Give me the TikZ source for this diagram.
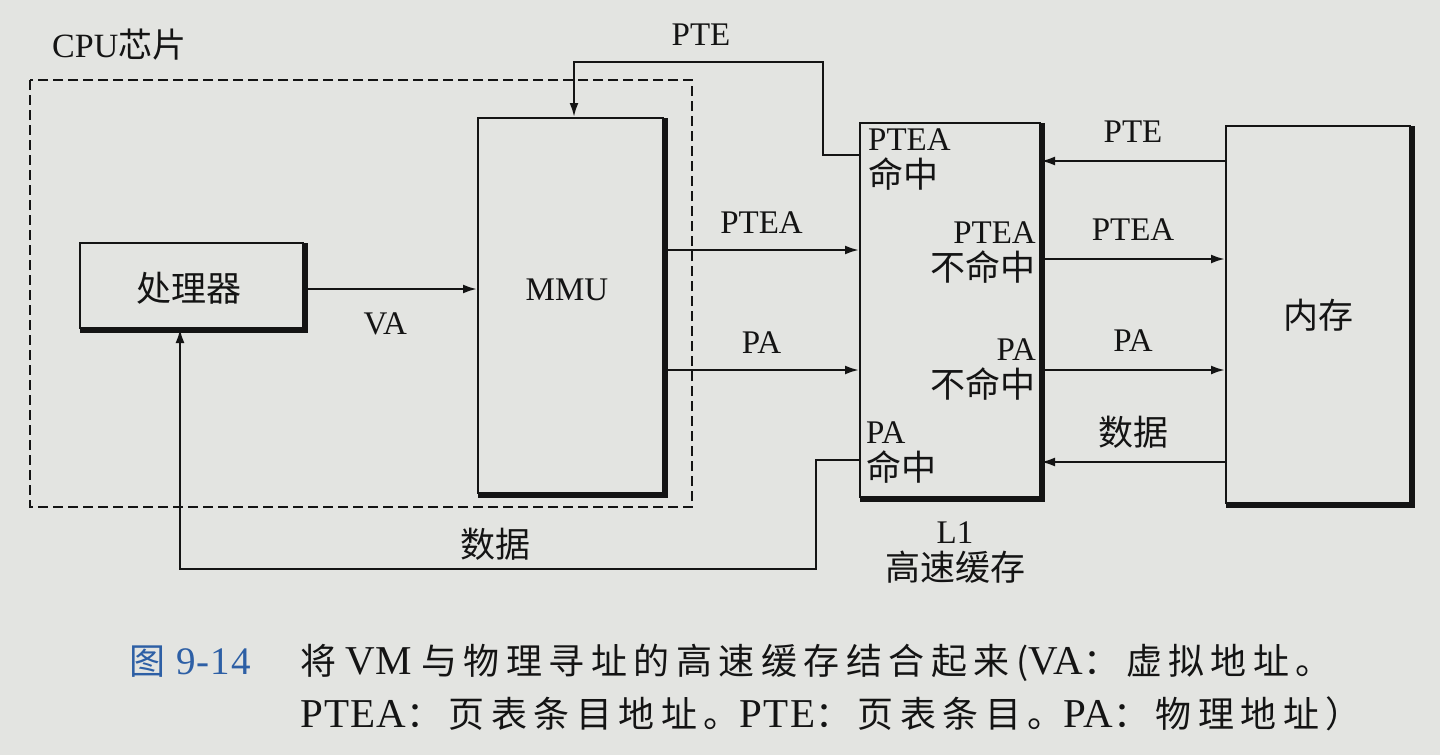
\documentclass[tikz,border=0pt]{standalone}
\usepackage{fontspec}
\setmainfont{Liberation Serif}
\newfontfamily\cjk{Noto Sans CJK SC}
\newfontfamily\capcjk[LetterSpace=18]{Noto Sans CJK SC}
\newfontfamily\caplat[LetterSpace=3]{Liberation Serif}
\newcommand\capzh[1]{{\capcjk\fontsize{36}{40}\selectfont #1}}
\newcommand\capen[1]{{\caplat\fontsize{41}{40}\selectfont #1}}
\usetikzlibrary{arrows.meta}

\definecolor{paper}{RGB}{227,228,225}
\definecolor{ink}{RGB}{20,20,20}
\definecolor{figblue}{RGB}{45,95,165}

\tikzset{
  blockbox/.style={draw=ink, line width=2pt, inner sep=0pt},
  shadowedge/.style={draw=ink, line width=4pt, line cap=rect},
  link/.style={draw=ink, line width=2.3pt, -{Latex[length=14pt,width=9pt]}},
  chip/.style={draw=ink, line width=2.8pt, dash pattern=on 10pt off 5pt},
  lbl/.style={text=ink, inner sep=0pt, font=\fontsize{33}{37}\selectfont},
  cjklbl/.style={text=ink, inner sep=0pt, font=\cjk\fontsize{35}{37}\selectfont},
  caption/.style={text=ink, inner sep=0pt, anchor=base west, font=\fontsize{36}{40}\selectfont}
}

\begin{document}
\begin{tikzpicture}[x=1pt, y=-1pt]
  \fill[paper] (0,0) rectangle (1440,755);
  \useasboundingbox (0,0) rectangle (1440,755);

  % CPU chip boundary
  \draw[chip] (30,80) rectangle (692,507);
  \node[lbl, anchor=base west, font=\fontsize{34}{37}\selectfont] (cpu) at (52,57) {CPU{\cjk 芯片}};

  % blocks
  \node[blockbox, minimum width=223pt, minimum height=85pt] (proc) at (191.5,285.5) {};
  \node[cjklbl] (proctext) at (189,288) {处理器};
  \node[blockbox, minimum width=185pt, minimum height=375pt] (mmu) at (570.5,305.5) {};
  \node[lbl] (mmutext) at (567,290) {MMU};
  \node[blockbox, minimum width=180pt, minimum height=374pt] (l1) at (950,310) {};
  \node[blockbox, minimum width=184pt, minimum height=377pt] (mem) at (1318,314.5) {};
  \node[cjklbl] (memtext) at (1318,315) {内存};

  % heavy lower-right edges of the blocks
  \foreach \b in {proc,mmu,l1,mem}
    \draw[shadowedge] ([shift={(2,3)}]\b.north east) -- ([shift={(2,2)}]\b.south east)
      -- ([shift={(3,2)}]\b.south west);

  % labels inside the L1 cache (base anchor sits on the last line)
  \node[lbl, anchor=base west, align=left] (pteahit) at (868,187) {PTEA\\{\cjk\fontsize{35}{37}\selectfont 命中}};
  \node[lbl, anchor=base east, align=right] (pteamiss) at (1036,280) {PTEA\\{\cjk\fontsize{35}{37}\selectfont 不命中}};
  \node[lbl, anchor=base east, align=right] (pamiss) at (1036,397) {PA\\{\cjk\fontsize{35}{37}\selectfont 不命中}};
  \node[lbl, anchor=base west, align=left] (pahit) at (866,480) {PA\\{\cjk\fontsize{35}{37}\selectfont 命中}};
  \node[lbl, anchor=base, align=center] (l1name) at (955,580) {L1\\{\cjk\fontsize{35}{37}\selectfont 高速缓存}};

  % helper coordinates
  \coordinate (pteX) at (574,62);
  \coordinate (pteY) at (823,155);
  \coordinate (datX) at (816,460);
  \coordinate (datY) at (180,569);

  % connectors
  \draw[link] (proc.east |- 0,289) -- (mmu.west |- 0,289) node[lbl, pos=0.47, below=23pt] (va) {VA};
  \draw[link] (mmu.east |- 0,250) -- (l1.west |- 0,250) node[lbl, midway, above=15pt] (ptea1) {PTEA};
  \draw[link] (mmu.east |- 0,370) -- (l1.west |- 0,370) node[lbl, midway, above=15pt] (pa1) {PA};
  \draw[link] (l1.west |- pteY) -- (pteY) |- (pteX) -- (mmu.north -| pteX);
  \node[lbl] (pte1) at (701,35) {PTE};
  \draw[link] (mem.west |- 0,161) -- (l1.east |- 0,161) node[lbl, midway, above=17pt] (pte2) {PTE};
  \draw[link] (l1.east |- 0,259) -- (mem.west |- 0,259) node[lbl, midway, above=17pt] (ptea2) {PTEA};
  \draw[link] (l1.east |- 0,370) -- (mem.west |- 0,370) node[lbl, midway, above=17pt] (pa2) {PA};
  \draw[link] (mem.west |- 0,462) -- (l1.east |- 0,462) node[cjklbl, midway, above=12pt] (dat2) {数据};
  \draw[link] (l1.west |- datX) -- (datX) |- (datY) -- (proc.south -| datY);
  \node[cjklbl] (dat1) at (495,544) {数据};

  % figure caption
  \node[caption, text=figblue] (capnum) at (129,674)
    {\capzh{图}{\caplat\fontsize{39}{40}\selectfont\ 9-14}};
  \node[caption] (cap1) at (300,674)
    {\capzh{将}\ \capen{VM}\ \capzh{与物理寻址的高速缓存结合起来(}\capen{VA}\capzh{：虚拟地址。}};
  \node[caption] (cap2) at (300,727)
    {\capen{PTEA}\capzh{：页表条目地址。}\capen{PTE}\capzh{：页表条目。}\capen{PA}\capzh{：物理地址）}};
\end{tikzpicture}
\end{document}
